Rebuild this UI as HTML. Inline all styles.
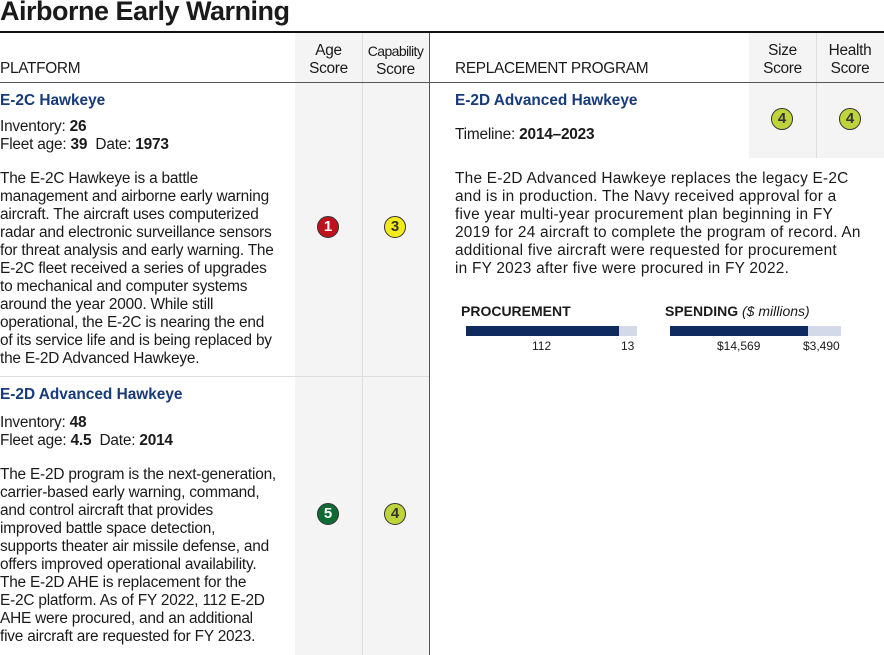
<!DOCTYPE html>
<html><head><meta charset="utf-8"><style>
*{margin:0;padding:0;box-sizing:border-box}
body{width:884px;height:655px;background:#fff;position:relative;overflow:hidden;font-family:"Liberation Sans",sans-serif;color:#1a1a1a}
.a{position:absolute;white-space:nowrap}
.t{font-size:15.4px;line-height:18px;letter-spacing:-0.2px}
.h{font-size:15.4px;font-weight:bold;color:#173a7a;line-height:18px}
.hd{font-size:15.4px;line-height:18px;text-align:center;letter-spacing:-0.3px}
.c{position:absolute;width:22px;height:22px;border-radius:50%;border:1px solid #333;font-weight:bold;font-size:15px;line-height:20px;text-align:center}
.g{position:absolute;background:#f4f4f4}
b{font-weight:bold}
</style></head><body>
<div class="a" style="left:0;top:-4px;font-size:27px;font-weight:bold;letter-spacing:-0.5px">Airborne Early Warning</div>
<div class="a" style="left:0;top:31px;width:884px;height:2px;background:#111"></div>
<div class="g" style="left:295px;top:33px;width:134px;height:622px"></div>
<div class="a" style="left:362px;top:33px;width:1px;height:622px;background:#ddd"></div>
<div class="g" style="left:749px;top:33px;width:135px;height:125px"></div>
<div class="a" style="left:816px;top:33px;width:1px;height:125px;background:#ddd"></div>
<div class="a" style="left:429px;top:33px;width:1px;height:622px;background:#555"></div>
<div class="a" style="left:0;top:82px;width:884px;height:1px;background:#555"></div>
<div class="a" style="left:0;top:376px;width:429px;height:1px;background:#ddd"></div>
<div class="a hd" style="left:0;top:60px;text-align:left">PLATFORM</div>
<div class="a hd" style="left:295px;top:42px;width:67px">Age<br>Score</div>
<div class="a hd" style="left:362px;top:42px;width:67px;font-size:14px;letter-spacing:-0.6px">Capability<br><span style="font-size:15.4px;letter-spacing:-0.3px">Score</span></div>
<div class="a hd" style="left:455px;top:60px;text-align:left">REPLACEMENT PROGRAM</div>
<div class="a hd" style="left:749px;top:42px;width:67px">Size<br>Score</div>
<div class="a hd" style="left:816px;top:42px;width:68px">Health<br>Score</div>
<div class="a h" style="left:0;top:92px">E-2C Hawkeye</div>
<div class="a t" style="left:0;top:118px">Inventory: <b>26</b><br>Fleet age: <b>39</b>&nbsp; Date: <b>1973</b></div>
<div class="a t" style="left:0;top:170px">The E-2C Hawkeye is a battle<br>management and airborne early warning<br>aircraft. The aircraft uses computerized<br>radar and electronic surveillance sensors<br>for threat analysis and early warning. The<br>E-2C fleet received a series of upgrades<br>to mechanical and computer systems<br>around the year 2000. While still<br>operational, the E-2C is nearing the end<br>of its service life and is being replaced by<br>the E-2D Advanced Hawkeye.</div>
<div class="c" style="left:317px;top:216px;background:#c0121e;color:#fff">1</div>
<div class="c" style="left:384px;top:216px;background:#f2ea1a;color:#333">3</div>
<div class="a h" style="left:0;top:386px">E-2D Advanced Hawkeye</div>
<div class="a t" style="left:0;top:414px">Inventory: <b>48</b><br>Fleet age: <b>4.5</b>&nbsp; Date: <b>2014</b></div>
<div class="a t" style="left:0;top:466px">The E-2D program is the next-generation,<br>carrier-based early warning, command,<br>and control aircraft that provides<br>improved battle space detection,<br>supports theater air missile defense, and<br>offers improved operational availability.<br>The E-2D AHE is replacement for the<br>E-2C platform. As of FY 2022, 112 E-2D<br>AHE were procured, and an additional<br>five aircraft are requested for FY 2023.</div>
<div class="c" style="left:317px;top:503px;background:#0f6b34;color:#fff">5</div>
<div class="c" style="left:384px;top:503px;background:#bed43a;color:#333">4</div>
<div class="a h" style="left:455px;top:92px">E-2D Advanced Hawkeye</div>
<div class="a t" style="left:455px;top:126px">Timeline: <b>2014–2023</b></div>
<div class="c" style="left:771px;top:108px;background:#bed43a;color:#333">4</div>
<div class="c" style="left:839px;top:108px;background:#bed43a;color:#333">4</div>
<div class="a t" style="left:455px;top:170px;letter-spacing:0.24px">The E-2D Advanced Hawkeye replaces the legacy E-2C<br>and is in production. The Navy received approval for a<br>five year multi-year procurement plan beginning in FY<br>2019 for 24 aircraft to complete the program of record. An<br>additional five aircraft were requested for procurement<br>in FY 2023 after five were procured in FY 2022.</div>
<div class="a" style="left:461px;top:303px;font-size:14px;font-weight:bold">PROCUREMENT</div>
<div class="a" style="left:466px;top:326px;width:171px;height:10px;background:#d3d9e8"></div>
<div class="a" style="left:466px;top:326px;width:153px;height:10px;background:#0e2a5e"></div>
<div class="a" style="left:532px;top:339px;font-size:12px">112</div>
<div class="a" style="left:621px;top:339px;font-size:12px">13</div>
<div class="a" style="left:665px;top:303px;font-size:14px"><b>SPENDING</b> <i>($ millions)</i></div>
<div class="a" style="left:670px;top:326px;width:171px;height:10px;background:#d3d9e8"></div>
<div class="a" style="left:670px;top:326px;width:138px;height:10px;background:#0e2a5e"></div>
<div class="a" style="left:717px;top:339px;font-size:12px">$14,569</div>
<div class="a" style="left:803px;top:339px;font-size:12px">$3,490</div>
</body></html>
